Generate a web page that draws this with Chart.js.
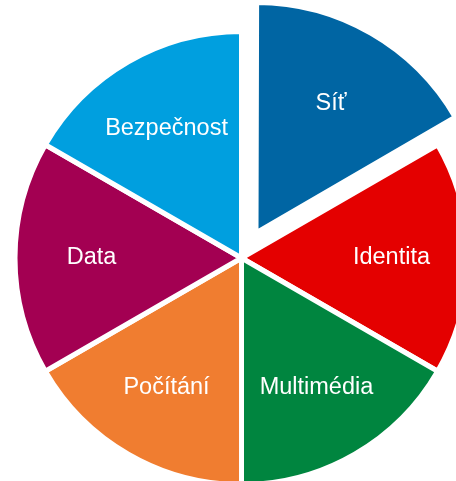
<!DOCTYPE html>
<html>
<head>
<meta charset="utf-8">
<script src="https://cdn.jsdelivr.net/npm/chart.js@4/dist/chart.umd.min.js"></script>
<style>
  html, body { margin: 0; padding: 0; background: #ffffff; }
  #wrap { width: 456px; height: 481px; position: relative; }
</style>
</head>
<body>
<div id="wrap"><canvas id="c" width="456" height="481"></canvas></div>
<script>
const categories = ["Síť", "Identita", "Multimédia", "Počítání", "Data", "Bezpečnost"];
const values = [1, 1, 1, 1, 1, 1];
const colors = ["#0065A3", "#E40000", "#00853F", "#F07D30", "#A30052", "#009FDF"];
const explode = [116, 0, 0, 0, 0, 0];

const labelPlugin = {
  id: 'sliceLabels',
  afterDatasetsDraw(chart) {
    const ctx = chart.ctx;
    const meta = chart.getDatasetMeta(0);
    ctx.save();
    ctx.fillStyle = '#ffffff';
    ctx.font = '23.5px "Liberation Sans", Arial, sans-serif';
    ctx.textAlign = 'center';
    ctx.textBaseline = 'middle';
    meta.data.forEach((arc, i) => {
      const mid = (arc.startAngle + arc.endAngle) / 2;
      const shift = (arc.options.offset || 0) / 4;
      const d = arc.outerRadius * 0.662 + shift;
      const x = arc.x + Math.cos(mid) * d;
      const y = arc.y + Math.sin(mid) * d;
      ctx.fillText(categories[i], x, y);
    });
    ctx.restore();
  }
};

new Chart(document.getElementById('c'), {
  type: 'pie',
  data: {
    labels: categories,
    datasets: [{
      data: values,
      backgroundColor: colors,
      borderColor: '#ffffff',
      borderWidth: 5,
      offset: explode,
      hoverOffset: 0,
      clip: false
    }]
  },
  options: {
    responsive: false,
    animation: false,
    events: [],
    radius: 226.5,
    layout: { padding: { left: 27, right: 0, top: 35, bottom: 0 } },
    plugins: {
      legend: { display: false },
      tooltip: { enabled: false },
      title: { display: false }
    }
  },
  plugins: [labelPlugin]
});
</script>
</body>
</html>
